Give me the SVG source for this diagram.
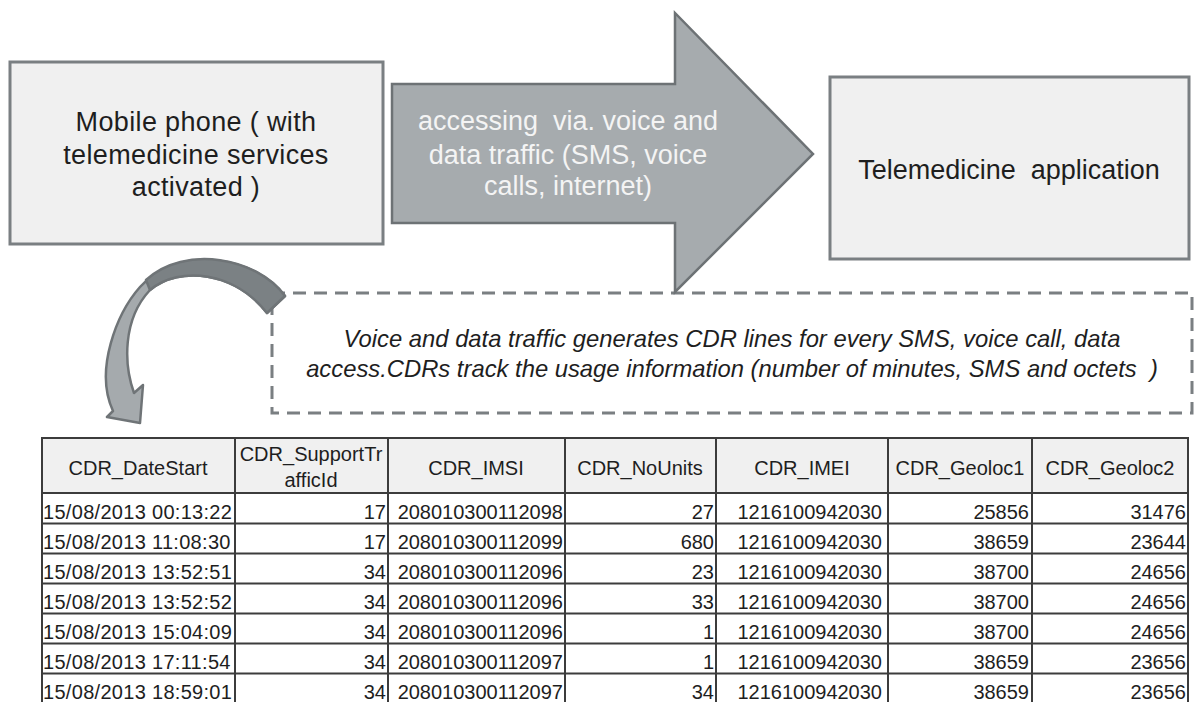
<svg xmlns="http://www.w3.org/2000/svg" width="1194" height="702" viewBox="0 0 1194 702">
<style>
.box{fill:#f0f0f0;stroke:#7a7f82;stroke-width:3}
.t{font-family:"Liberation Sans",Arial,sans-serif;font-size:27px;fill:#1e1e1e;text-anchor:middle}
.ls{letter-spacing:0.35px}
.tw{font-family:"Liberation Sans",Arial,sans-serif;font-size:27px;fill:#f4f4f4;text-anchor:middle}
.ti{font-family:"Liberation Sans",Arial,sans-serif;font-size:23.8px;font-style:italic;fill:#1e1e1e;text-anchor:middle}
.dash{fill:none;stroke:#7a7f82;stroke-width:3;stroke-dasharray:13 8}
.grid{stroke:#3c3c3c;stroke-width:2;fill:none}
.c{font-family:"Liberation Sans",Arial,sans-serif;font-size:20px;fill:#1e1e1e}
.d{letter-spacing:0.3px}
.h{text-anchor:middle}
.r{text-anchor:end}
</style>
<rect width="1194" height="702" fill="#ffffff"/>

<g id="dashed-note">
<rect class="dash" x="272" y="293" width="920" height="120"/>
<text class="ti" x="732" y="347">Voice and data traffic generates CDR lines for every SMS, voice call, data</text>
<text class="ti" x="732" y="377" xml:space="preserve">access.CDRs track the usage information (number of minutes, SMS and octets  )</text>
</g>

<g id="mobile-phone">
<rect class="box" x="10" y="62" width="373" height="182"/>
<text class="t ls" x="196" y="131">Mobile phone ( with</text>
<text class="t ls" x="196" y="164">telemedicine services</text>
<text class="t ls" x="196" y="196">activated )</text>
</g>

<g id="telemedicine-app">
<rect class="box" x="830" y="77" width="359" height="182"/>
<text class="t" x="1009" y="179" xml:space="preserve">Telemedicine  application</text>
</g>

<g id="connectors">
<g id="access-arrow">
<polygon points="392,84 675,84 675,13 813,154 675,292 675,223 392,223" fill="#a6abae" stroke="#6d7275" stroke-width="2.5" stroke-linejoin="miter"/>
<text class="tw" x="568" y="130" xml:space="preserve">accessing  via. voice and</text>
<text class="tw" x="568" y="164">data traffic (SMS, voice</text>
<text class="tw" x="568" y="195">calls, internet)</text>
</g>
<g id="curved-arrow">
<path d="M285,296 C258,258 180,242 140,287 C117,313 94,370 113,411 L107,417 L140,423 L143,385 L134,393 C124,365 122,320 150,290 C180,265 235,272 267,313 Z" fill="#a5aaad" stroke="#6f7477" stroke-width="2.5" stroke-linejoin="round"/>
<path d="M285,296 C258,258 185,244 146,280 L150,290 C180,265 235,272 267,313 Z" fill="#7b8184" stroke="#6f7477" stroke-width="2.5" stroke-linejoin="round"/>
</g>
</g>

<g id="cdr-table">
<rect x="42" y="438" width="1146" height="55" fill="#f0f0f0"/>
<rect x="42" y="493" width="1146" height="212" fill="#ffffff"/>
<g class="grid">
<line x1="42" y1="438" x2="1188" y2="438"/>
<line x1="42" y1="493" x2="1188" y2="493"/>
<line x1="42" y1="523.5" x2="1188" y2="523.5"/>
<line x1="42" y1="553.5" x2="1188" y2="553.5"/>
<line x1="42" y1="583.5" x2="1188" y2="583.5"/>
<line x1="42" y1="613.5" x2="1188" y2="613.5"/>
<line x1="42" y1="643.5" x2="1188" y2="643.5"/>
<line x1="42" y1="673.5" x2="1188" y2="673.5"/>
<line x1="42" y1="437" x2="42" y2="702"/>
<line x1="235" y1="437" x2="235" y2="702"/>
<line x1="388" y1="437" x2="388" y2="702"/>
<line x1="565" y1="437" x2="565" y2="702"/>
<line x1="716" y1="437" x2="716" y2="702"/>
<line x1="888" y1="437" x2="888" y2="702"/>
<line x1="1032" y1="437" x2="1032" y2="702"/>
<line x1="1188" y1="437" x2="1188" y2="702"/>
</g>
<g class="c h">
<text x="138" y="475">CDR_DateStart</text>
<text x="311" y="461">CDR_SupportTr</text>
<text x="311" y="487">afficId</text>
<text x="476" y="475">CDR_IMSI</text>
<text x="640" y="475">CDR_NoUnits</text>
<text x="802" y="475">CDR_IMEI</text>
<text x="960" y="475">CDR_Geoloc1</text>
<text x="1110" y="475">CDR_Geoloc2</text>
</g>
<g class="c d">
<text x="43" y="518.5">15/08/2013 00:13:22</text>
<text x="43" y="548.5">15/08/2013 11:08:30</text>
<text x="43" y="578.5">15/08/2013 13:52:51</text>
<text x="43" y="608.5">15/08/2013 13:52:52</text>
<text x="43" y="638.5">15/08/2013 15:04:09</text>
<text x="43" y="668.5">15/08/2013 17:11:54</text>
<text x="43" y="698.5">15/08/2013 18:59:01</text>
</g>
<g class="c r">
<text x="386" y="518.5">17</text>
<text x="386" y="548.5">17</text>
<text x="386" y="578.5">34</text>
<text x="386" y="608.5">34</text>
<text x="386" y="638.5">34</text>
<text x="386" y="668.5">34</text>
<text x="386" y="698.5">34</text>
<text x="563" y="518.5">208010300112098</text>
<text x="563" y="548.5">208010300112099</text>
<text x="563" y="578.5">208010300112096</text>
<text x="563" y="608.5">208010300112096</text>
<text x="563" y="638.5">208010300112096</text>
<text x="563" y="668.5">208010300112097</text>
<text x="563" y="698.5">208010300112097</text>
<text x="714" y="518.5">27</text>
<text x="714" y="548.5">680</text>
<text x="714" y="578.5">23</text>
<text x="714" y="608.5">33</text>
<text x="714" y="638.5">1</text>
<text x="714" y="668.5">1</text>
<text x="714" y="698.5">34</text>
<text x="882" y="518.5">1216100942030</text>
<text x="882" y="548.5">1216100942030</text>
<text x="882" y="578.5">1216100942030</text>
<text x="882" y="608.5">1216100942030</text>
<text x="882" y="638.5">1216100942030</text>
<text x="882" y="668.5">1216100942030</text>
<text x="882" y="698.5">1216100942030</text>
<text x="1029" y="518.5">25856</text>
<text x="1029" y="548.5">38659</text>
<text x="1029" y="578.5">38700</text>
<text x="1029" y="608.5">38700</text>
<text x="1029" y="638.5">38700</text>
<text x="1029" y="668.5">38659</text>
<text x="1029" y="698.5">38659</text>
<text x="1186" y="518.5">31476</text>
<text x="1186" y="548.5">23644</text>
<text x="1186" y="578.5">24656</text>
<text x="1186" y="608.5">24656</text>
<text x="1186" y="638.5">24656</text>
<text x="1186" y="668.5">23656</text>
<text x="1186" y="698.5">23656</text>
</g>
</g>
</svg>
